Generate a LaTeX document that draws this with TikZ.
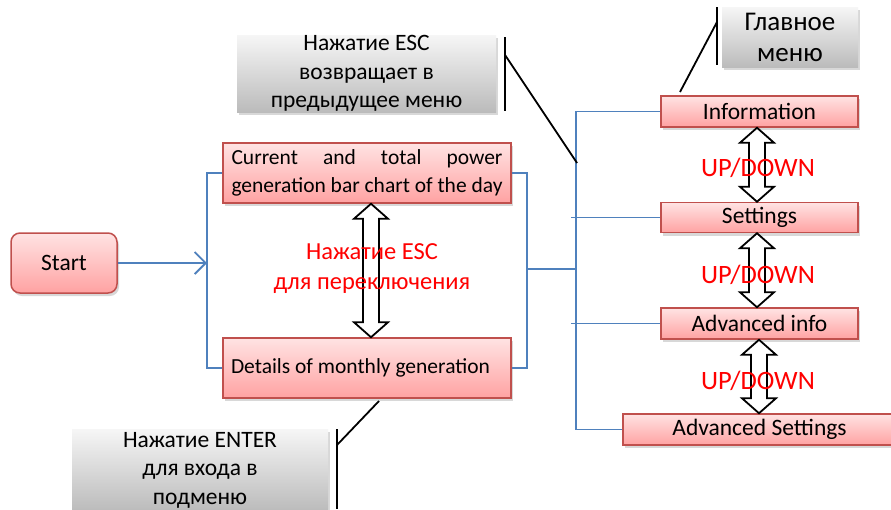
\documentclass[tikz,border=0pt]{standalone}
\usepackage{fontspec}
\setmainfont{Carlito}
\usetikzlibrary{shadows,arrows.meta,calc}
\definecolor{boxborder}{HTML}{C0504D}
\definecolor{boxtop}{HTML}{FFE3E3}
\definecolor{boxbot}{HTML}{FFA2A2}
\definecolor{lineblue}{HTML}{4F81BD}
\definecolor{graytop}{HTML}{F6F6F6}
\definecolor{graybot}{HTML}{BBBBBB}
\newcommand\dblarr[4]{%
  \draw[updown] let \p1=(#1.south), \p2=(#2.north) in
   (#3pt,\y1) -- (#3pt+#4pt,\y1-15pt) -- (#3pt+8pt,\y1-15pt) -- (#3pt+8pt,\y2+15pt)
   -- (#3pt+#4pt,\y2+15pt) -- (#3pt,\y2) -- (#3pt-#4pt,\y2+15pt) -- (#3pt-8pt,\y2+15pt)
   -- (#3pt-8pt,\y1-15pt) -- (#3pt-#4pt,\y1-15pt) -- cycle;}
\begin{document}
\begin{tikzpicture}[x=1pt,y=-1pt,
  redbox/.style={draw=boxborder, line width=1.5pt, top color=boxtop, bottom color=boxbot,
    drop shadow={opacity=0.3, shadow xshift=2pt, shadow yshift=-3pt},
    inner sep=0pt, font=\fontsize{23.5}{28}\selectfont},
  graybox/.style={top color=graytop, bottom color=graybot,
    drop shadow={opacity=0.3, shadow xshift=2pt, shadow yshift=-3pt},
    inner sep=0pt, align=center, font=\fontsize{23.5}{28.5}\selectfont},
  blueline/.style={draw=lineblue, line width=1.8pt},
  callout/.style={draw=black, line width=1.8pt},
  updown/.style={draw=black, line width=1.8pt, fill=white},
  redtext/.style={text=red, align=center}]
\useasboundingbox (0,0) rectangle (891,509);
\clip (0,0) rectangle (891,509);
\fill[white] (0,0) rectangle (891,509);

% gray callout boxes
\node[graybox, minimum width=259pt, minimum height=77pt] (esc) at (366.5,73.5)
  {Нажатие ESC\\возвращает в\\предыдущее меню};
\node[graybox, minimum width=136pt, minimum height=60pt,
  font=\fontsize{27}{31}\selectfont] (mainmenu) at (790,37)
  {Главное\\меню};
\node[graybox, minimum width=256pt, minimum height=82pt] (enter) at (200,470)
  {Нажатие ENTER\\для входа в\\подменю};

% red boxes
\node[redbox, rounded corners=9pt, minimum width=106pt, minimum height=60pt,
  font=\fontsize{23.5}{28}\selectfont] (start) at (64,263) {Start};
\node[redbox, minimum width=288pt, minimum height=60pt, font=\fontsize{21.5}{28}\selectfont]
  (cur) at (367,173)
  {\parbox{271pt}{\makebox[271pt][s]{Current and total power}\par generation bar chart of the day}};
\node[redbox, minimum width=288pt, minimum height=60pt, font=\fontsize{21.5}{28}\selectfont]
  (det) at (367,368) {\makebox[272pt][l]{Details of monthly generation}};
\node[redbox, minimum width=197pt, minimum height=31pt] (info) at (759.5,111.5) {Information};
\node[redbox, minimum width=197pt, minimum height=30pt] (settings) at (759.5,217.5) {Settings};
\node[redbox, minimum width=197pt, minimum height=31pt] (advinfo) at (759.5,323.5) {Advanced info};
\node[redbox, minimum width=273pt, minimum height=31pt] (advset) at (759.5,429.5) {Advanced Settings};

% blue connectors
\coordinate (lb) at (207,263);
\coordinate (rb) at (527,269);
\coordinate (trunk) at (576,269);
\draw[blueline] (cur.west) -- (cur.west -| lb) -- (det.west -| lb) -- (det.west);
\draw[blueline, -{Straight Barb[length=11pt,width=22pt]}] (start.east) -- (lb);
\draw[blueline] (cur.east) -- (cur.east -| rb) -- (det.east -| rb) -- (det.east);
\draw[blueline] (rb) -- (trunk);
\draw[blueline] (info.west) -| (trunk) |- (advset.west);
\coordinate (setL) at ($(trunk |- settings.west)+(-5,0)$);
\coordinate (advL) at ($(trunk |- advinfo.west)+(-5,0)$);
\draw[blueline] (setL) -- (settings.west);
\draw[blueline] (advL) -- (advinfo.west);

% callout lines
\coordinate (escT) at (505,37);
\coordinate (escB) at (505,111);
\coordinate (escJ) at (505,55);
\coordinate (escP) at (577,163);
\draw[callout] (escT) -- (escB);
\draw[callout] (escJ) -- (escP);
\coordinate (mmT) at (717,7);
\coordinate (mmB) at (717,65);
\coordinate (mmJ) at (717,22);
\coordinate (mmP) at (680,92);
\draw[callout] (mmT) -- (mmB);
\draw[callout] (mmJ) -- (mmP);
\coordinate (enT) at (337,429);
\coordinate (enB) at (337,509);
\coordinate (enJ) at (337,445);
\coordinate (enP) at (379,401);
\draw[callout] (enT) -- (enB);
\draw[callout] (enJ) -- (enP);

% double arrows
\dblarr{cur}{det}{371}{17}
\dblarr{info}{settings}{757}{17}
\dblarr{settings}{advinfo}{757}{17}
\dblarr{advinfo}{advset}{759}{17}

% red texts
\node[redtext, font=\fontsize{24.5}{30}\selectfont] (esctxt) at (372,269)
  {Нажатие ESC\\для переключения};
\node[redtext, font=\fontsize{26.5}{30}\selectfont] (ud1) at (758,168) {UP/DOWN};
\node[redtext, font=\fontsize{26.5}{30}\selectfont] (ud2) at (758,275) {UP/DOWN};
\node[redtext, font=\fontsize{26.5}{30}\selectfont] (ud3) at (758,381) {UP/DOWN};
\end{tikzpicture}
\end{document}
